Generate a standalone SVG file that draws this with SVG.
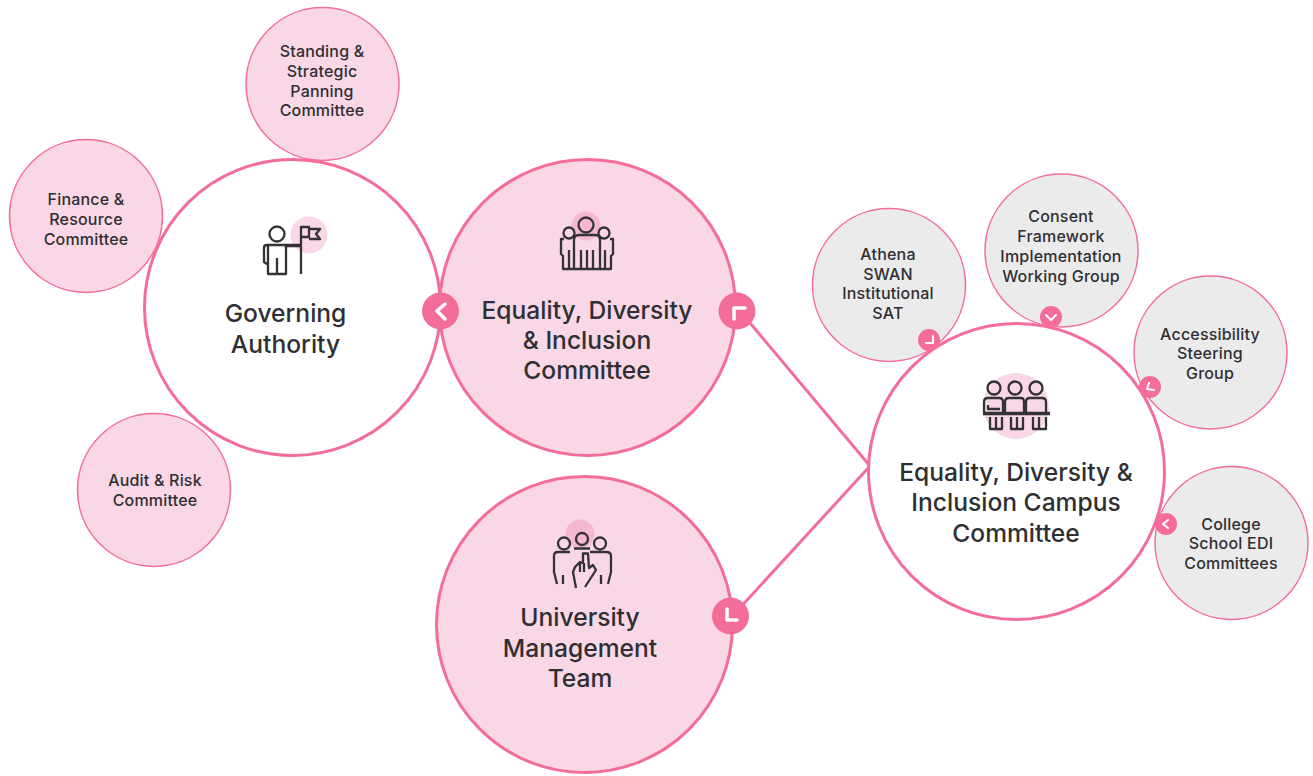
<svg xmlns="http://www.w3.org/2000/svg" width="1313" height="776" viewBox="0 0 1313 776">
<style>
text{font-family:Inter,"Noto Sans","Liberation Sans",sans-serif;fill:#2f2f33;text-anchor:middle}
.big{font-size:24.600px;font-weight:500}
.small{font-size:16px;font-weight:500;letter-spacing:.2px}
.main{stroke:#f46d98;stroke-width:3;fill:#fff}
.main.p{fill:#f9d7e6}
.sub{stroke:#f46d98;stroke-width:1.500;fill:#f9d7e6}
.sub.g{fill:#ebebeb}
.badge{fill:#f46d98}
.chev{fill:none;stroke:#fff;stroke-linecap:round;stroke-linejoin:round}
.ic{fill:none;stroke:#333337;stroke-width:2.300;stroke-linejoin:round}
.halo{fill:#f5b8cf}
.conn{stroke:#f46d98;stroke-width:3;fill:none}
</style>
<g id="connectors">
<line class="conn" x1="745" y1="317" x2="870" y2="466"/>
<line class="conn" x1="738" y1="610" x2="870" y2="466"/>
</g>
<g id="standing"><circle class="sub" cx="322.500" cy="84" r="76.500"/>
<text class="small" x="322" y="57">Standing &amp;</text><text class="small" x="322" y="77">Strategic</text><text class="small" x="322" y="97">Panning</text><text class="small" x="322" y="116">Committee</text></g>
<g id="finance"><circle class="sub" cx="86" cy="216" r="76.500"/>
<text class="small" x="86" y="205">Finance &amp;</text><text class="small" x="86" y="225">Resource</text><text class="small" x="86" y="245">Committee</text></g>
<g id="audit"><circle class="sub" cx="154" cy="490" r="76.500"/>
<text class="small" x="155" y="486">Audit &amp; Risk</text><text class="small" x="155" y="506">Committee</text></g>
<g id="governing"><circle class="main" cx="292.500" cy="307.500" r="148"/>
<circle cx="309" cy="235" r="18.500" fill="#f9d7e6"/>
<g class="ic"><circle cx="277" cy="234" r="7.500"/><path d="M301 245H267Q264 245 264 248V262L267 264M268 246V274H286V246M277 258V274M286 246H301V274M301 226V245M301 227H309V237H301M309 229H320L316 234L320 239H309"/></g>
<text class="big" x="285.500" y="322">Governing</text><text class="big" x="285.500" y="353">Authority</text></g>
<g id="edi"><circle class="main p" cx="587.500" cy="307.500" r="148"/>
<circle class="halo" cx="586" cy="226" r="14.500"/>
<g class="ic"><circle cx="586" cy="225" r="7.500"/><circle cx="569" cy="233" r="5.500"/><circle cx="604" cy="233" r="5.500"/><path d="M574 269V240Q574 235 579 235H595Q600 235 600 240V269M574 240V252M600 240V252M581 250V269M587 250V269M593 250V269M564 239H561V254L563 256V269H611V256L613 254V239H610M569 250V269M605 250V269"/></g>
<text class="big" x="587" y="319">Equality, Diversity</text><text class="big" x="587" y="349">&amp; Inclusion</text><text class="big" x="587" y="379">Committee</text></g>
<g id="umt"><circle class="main p" cx="584.500" cy="624.500" r="148"/>
<circle class="halo" cx="580" cy="534" r="14.500"/>
<g class="ic"><circle cx="582" cy="539" r="6"/><circle cx="564" cy="543.500" r="6"/><circle cx="600" cy="543.500" r="6"/><path d="M574 548.500H590M570 552H558Q554 552 554 556V572L557 584M590 552H606Q611 552 611 556V572L608 584M563 575V584M601 575V584M576 588L573 572L575 567L580 562L583 563V553.500H588L589 568L593 565L596 570L585 587M580 562V572M584 563V572"/></g>
<text class="big" x="580" y="626">University</text><text class="big" x="580" y="657">Management</text><text class="big" x="580" y="687">Team</text></g>
<g id="athena"><circle class="sub g" cx="889" cy="285" r="76.500"/>
<text class="small" x="888" y="260">Athena</text><text class="small" x="888" y="280">SWAN</text><text class="small" x="888" y="299">Institutional</text><text class="small" x="888" y="319">SAT</text></g>
<g id="consent"><circle class="sub g" cx="1061.500" cy="250.500" r="76.500"/>
<text class="small" x="1061" y="222">Consent</text><text class="small" x="1061" y="242">Framework</text><text class="small" x="1061" y="262">Implementation</text><text class="small" x="1061" y="282">Working Group</text></g>
<g id="accessibility"><circle class="sub g" cx="1210.500" cy="352.500" r="76.500"/>
<text class="small" x="1210" y="340">Accessibility</text><text class="small" x="1210" y="359">Steering</text><text class="small" x="1210" y="379">Group</text></g>
<g id="college"><circle class="sub g" cx="1231.500" cy="543" r="76.500"/>
<text class="small" x="1231" y="530">College</text><text class="small" x="1231" y="549">School EDI</text><text class="small" x="1231" y="569">Committees</text></g>
<g id="campus"><circle class="main" cx="1016.500" cy="471.500" r="148"/>
<circle cx="1016" cy="406" r="33" fill="#f9d7e6"/>
<g class="ic"><circle cx="994" cy="388" r="6.500"/><circle cx="1015" cy="388" r="6.500"/><circle cx="1036" cy="388" r="6.500"/><path d="M984 413V402Q984 398 988 398H999Q1003 398 1003 402V413M1005 413V402Q1005 398 1009 398H1021Q1024 398 1024 402V413M1026 413V402Q1026 398 1030 398H1042Q1046 398 1046 402V413M988 405V409H1000M990 417V429H1002V417M996 417V429M1011 417V429H1023V417M1017 417V429M1033 417V429H1046V417M1039 417V429"/><path d="M983 413.500H1050" stroke-width="3.500"/></g>
<text class="big" x="1016" y="481">Equality, Diversity &amp;</text><text class="big" x="1016" y="511">Inclusion Campus</text><text class="big" x="1016" y="542">Committee</text></g>
<g id="badges">
<circle class="badge" cx="440.500" cy="311" r="18.500"/><path class="chev" stroke-width="3.500" d="M445 304L437 311L445 319"/>
<circle class="badge" cx="737" cy="311" r="18.500"/><path class="chev" stroke-width="3.500" d="M734 319V308H745"/>
<circle class="badge" cx="730.500" cy="616" r="18.500"/><path class="chev" stroke-width="3.500" d="M727 609V620H737"/>
<circle class="badge" cx="929" cy="340" r="11"/><path class="chev" stroke-width="2" d="M933 336V343H926"/>
<circle class="badge" cx="1051" cy="317" r="11"/><path class="chev" stroke-width="2" d="M1046 315L1051 320L1056 315"/>
<circle class="badge" cx="1150" cy="387" r="11"/><path class="chev" stroke-width="2" d="M1149 383L1147 389L1154 390"/>
<circle class="badge" cx="1166" cy="524" r="11"/><path class="chev" stroke-width="2" d="M1168 520L1163 524L1168 528"/>
</g>
</svg>
